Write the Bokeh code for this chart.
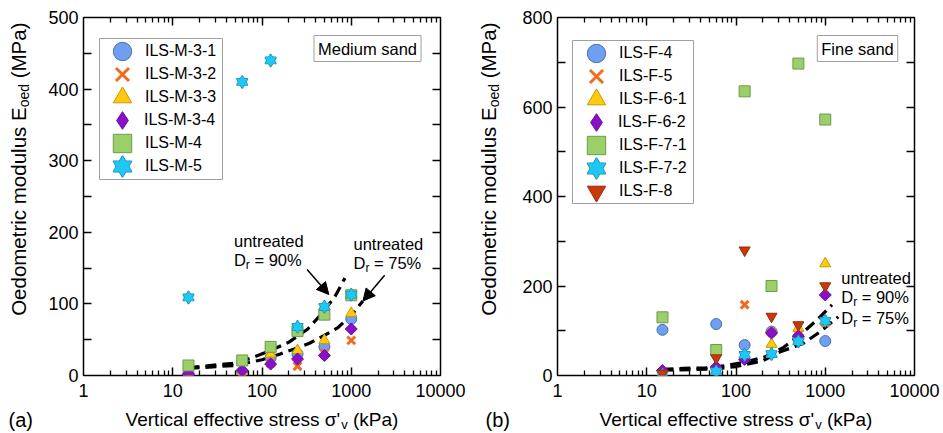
from math import pi
from bokeh.plotting import figure
from bokeh.models import (FixedTicker, Legend, LegendItem, Label, Arrow, NormalHead,
                          BoxAnnotation, Range1d, NumeralTickFormatter)
from bokeh.layouts import row, column
from bokeh.embed import file_html
from bokeh.resources import INLINE

# ---------------- data ----------------
SIGMA = [15, 60, 125, 250, 500, 1000]          # vertical effective stress (kPa)
XTICKS = [1, 10, 100, 1000, 10000]
XMINOR = [m * 10 ** d for d in range(4) for m in range(2, 10)]
YTICKS_A = [0, 100, 200, 300, 400, 500]
YMINOR_A = [50, 150, 250, 350, 450]
YTICKS_B = [0, 200, 400, 600, 800]
YMINOR_B = [100, 300, 500, 700]

# (a) medium sand, Eoed (MPa)
M_3_1 = [3, 5, 25, 30, 40, 79]
M_3_2 = [1, 3, 17, 13, 31, 49]
M_3_3 = [3, 6, 30, 35, 49, 87]
M_3_4 = [2, 7, 16, 23, 28, 65]
M_4 = [14, 21, 40, 62, 85, 112]
M_5 = [109, 410, 440, 68, 96, 113]

# untreated reference curves (a)
SIG_90M = [15, 47, 75, 120, 203, 326, 441, 649, 850]
E_90M = [11, 17, 24, 34, 47, 65, 83, 109, 136]
SIG_75M = [15, 50, 100, 160, 230, 340, 500, 710, 1000, 1350]
E_75M = [10, 14, 22, 30, 37, 45, 56, 67, 84, 104]

# (b) fine sand, Eoed (MPa)
F_4 = [102, 115, 68, 98, 85, 77]
F_5 = [2, 1, 158, 96, 92, 118]
F_6_1 = [4, 10, 40, 70, 106, 250]
F_6_2 = [11, 19, 36, 95, 88, 180]
F_7_1 = [130, 57, 635, 200, 697, 572]
F_7_2 = [2, 9, 46, 48, 76, 122]
F_8 = [5, 39, 280, 132, 113, 200]

SIG_90F = [15, 26, 46, 76, 133, 213, 342, 525, 807, 1190]
E_90F = [14, 16, 17, 22, 31, 42, 63, 91, 124, 158]
SIG_75F = [15, 30, 60, 100, 200, 314, 572, 879, 1400]
E_75F = [12, 13, 15, 20, 33, 53, 72, 98, 131]

# ---------------- style ----------------
FONT = "Liberation Sans"
STY = {
    "circle": ("#6e9ff0", "#4a70b5"),
    "x": ("#f26a1e", "#f26a1e"),
    "triangle": ("#ffc90e", "#c89b00"),
    "diamond": ("#8a0fcb", "#6a0a9c"),
    "square": ("#9bcf6a", "#6f9a4a"),
    "star": ("#1ec8f2", "#1a8ab5"),
    "inverted_triangle": ("#c7380b", "#9a2a05"),
}
AW = {'V': 667, 'e': 556, 'r': 333, 't': 278, 'i': 222, 'c': 500, 'a': 556, 'l': 222,
      ' ': 278, 'f': 278, 's': 500, 'σ': 600, "'": 191, 'v': 500, '(': 333, 'k': 500,
      'P': 667, ')': 333, 'O': 778, 'd': 556, 'o': 556, 'm': 833, 'u': 556, 'E': 667,
      'M': 833, 'D': 722, '=': 584, '%': 889}


def tw(s, px):
    return sum(AW.get(c, 556) for c in s) * px / 1000.0


FW, FH = 357, 358
PH = 405          # plot figure height
XLH = 27          # x-label strip height
YLW = 40          # y-label strip width


def make_fig(width, right, ymax, yt, ym):
    p = figure(width=width, height=PH, x_axis_type="log", x_range=Range1d(1, 10000),
               y_range=Range1d(0, ymax), output_backend="svg", toolbar_location=None,
               min_border_left=43, min_border_right=right, min_border_top=17,
               min_border_bottom=30)
    p.outline_line_color = "black"
    p.outline_line_width = 1.5
    p.background_fill_color = "white"
    p.border_fill_color = "white"
    xt = FixedTicker(ticks=XTICKS, minor_ticks=XMINOR)
    ytk = FixedTicker(ticks=yt, minor_ticks=ym)
    bottom = p.below[0]
    leftax = p.left[0]
    bottom.ticker = xt
    leftax.ticker = ytk
    for ax in [bottom, leftax]:
        ax.major_tick_in = 0
        ax.major_tick_out = 0
        ax.minor_tick_in = 0
        ax.minor_tick_out = 0
        ax.major_tick_line_color = None
        ax.minor_tick_line_color = None
        ax.axis_line_color = None
        ax.major_label_text_font = FONT
        ax.major_label_text_font_size = "18px"
        ax.major_label_text_color = "black"
    bottom.formatter = NumeralTickFormatter(format="0")
    bottom.major_label_standoff = 8
    leftax.major_label_standoff = 5
    # inward, mirrored tick marks drawn as dashed grid lines (dash at both frame edges)
    gx = p.xgrid[0]
    gx.ticker = xt
    gx.grid_line_color = "black"
    gx.grid_line_width = 1.5
    gx.grid_line_dash = "8 342"
    gx.minor_grid_line_color = "black"
    gx.minor_grid_line_width = 1.3
    gx.minor_grid_line_dash = "5 348"
    gy = p.ygrid[0]
    gy.ticker = ytk
    gy.grid_line_color = "black"
    gy.grid_line_width = 1.5
    gy.grid_line_dash = "8 341"
    gy.minor_grid_line_color = "black"
    gy.minor_grid_line_width = 1.3
    gy.minor_grid_line_dash = "8 341"
    return p


def label_fig(width, height):
    f = figure(width=width, height=height, x_range=Range1d(0, 1), y_range=Range1d(0, 1),
               x_axis_location=None, y_axis_location=None, toolbar_location=None,
               output_backend="svg", min_border=0)
    f.outline_line_color = None
    f.grid.visible = False
    f.background_fill_color = "white"
    f.border_fill_color = "white"
    return f


def slabel(p, x, y, text, size, units="screen", angle=0, align="left", **kw):
    p.add_layout(Label(x=x, y=y, x_units=units, y_units=units, text=text, angle=angle,
                       text_font=FONT, text_font_size=f"{size}px", text_color="black",
                       text_baseline="middle", text_align=align, **kw))


def x_label_strip(width, cx, tag, tagx):
    f = label_fig(width, XLH)
    s1, s2, s3 = "Vertical effective stress σ'", "v", "(kPa)"
    big, small = 19, 13
    w1, w2, w3 = tw(s1, big), tw(s2, small), tw(" " + s3, big)
    x0 = cx - (w1 + w2 + w3) / 2
    y0 = 13
    slabel(f, x0, y0, s1, big)
    slabel(f, x0 + w1, y0 - 5, s2, small)
    slabel(f, x0 + w1 + w2 + tw(" ", big), y0, s3, big)
    slabel(f, tagx, y0, tag, 20)
    return f


def y_label_strip(cx):
    f = label_fig(YLW, PH)
    t1, t2, t3 = "Oedometric modulus E", "oed", "(MPa)"
    yb, ys = 20.5, 14
    ytop = PH - 14 - 38
    y_sub_end = ytop - tw(t3, yb) - tw(" ", yb)
    y_main_end = y_sub_end - tw(t2, ys)
    slabel(f, cx, ytop, t3, yb, angle=pi / 2, align="right")
    slabel(f, cx + 5, y_sub_end, t2, ys, angle=pi / 2, align="right")
    slabel(f, cx, y_main_end, t1, yb, angle=pi / 2, align="right")
    return f


def add_series(p, name, kind, ys):
    fill, line = STY[kind]
    rs = []
    if kind == "star":
        for m in ("triangle", "inverted_triangle"):
            rs.append(p.scatter(SIGMA, ys, marker=m, size=11, fill_color=None,
                                line_color=line, line_width=1.4))
        for m in ("triangle", "inverted_triangle"):
            rs.append(p.scatter(SIGMA, ys, marker=m, size=11, fill_color=fill, line_color=None))
    elif kind == "x":
        rs.append(p.scatter(SIGMA, ys, marker="x", size=11, line_color=fill, line_width=3))
    elif kind == "diamond":
        p.scatter(SIGMA, ys, marker="square", angle=pi / 4, size=8.5,
                  fill_color=fill, line_color=line, line_width=1)
        # hidden twin used only for the legend symbol
        rs.append(p.scatter(SIGMA, ys, marker="diamond", size=13, fill_color=fill,
                            line_color=line, line_width=1, visible=False))
    else:
        rs.append(p.scatter(SIGMA, ys, marker=kind, size=11, fill_color=fill,
                            line_color=line, line_width=1))
    return LegendItem(label=name, renderers=rs)


def add_legend(p, items, kinds, box, x, c0):
    l, r, t, b = box
    p.add_layout(BoxAnnotation(left=l, right=r, top=t, bottom=b, left_units="screen",
                               right_units="screen", top_units="screen", bottom_units="screen",
                               fill_color="white", fill_alpha=1, line_color="#a0a0a0",
                               line_width=1, line_alpha=1))
    for i, (it, kind) in enumerate(zip(items, kinds)):
        g = 44 if kind == "diamond" else 46
        cx = x + 23
        cy = c0 - 23 * i
        leg = Legend(items=[it], location=(cx - g / 2, cy - g / 2), padding=0, spacing=0,
                     glyph_width=g, glyph_height=g, label_standoff=int(18 - g / 2),
                     label_height=20, label_text_font=FONT, label_text_font_size="16px",
                     label_text_color="black", border_line_color=None,
                     background_fill_alpha=0, margin=0, inactive_fill_alpha=0)
        p.add_layout(leg)


def dr_text(p, x, y, pct):
    wd = tw("D", 16.5)
    slabel(p, x, y, "D", 16.5, units="data")
    slabel(p, x, y, "r", 12, units="data", x_offset=wd, y_offset=-5)
    slabel(p, x, y, "= " + pct, 16.5, units="data", x_offset=wd + 4.0 + tw(" ", 16.5))


KINDS_A = ["circle", "x", "triangle", "diamond", "square", "star"]
KINDS_B = ["circle", "x", "triangle", "diamond", "square", "star", "inverted_triangle"]

# ---------------- panel (a) ----------------
pa = make_fig(434, 34, 500, YTICKS_A, YMINOR_A)
for xs, ys in [(SIG_90M, E_90M), (SIG_75M, E_75M)]:
    pa.line(xs, ys, line_color="black", line_width=3.2, line_dash="11 6")
names_a = ["ILS-M-3-1", "ILS-M-3-2", "ILS-M-3-3", "ILS-M-3-4", "ILS-M-4", "ILS-M-5"]
vals_a = [M_3_1, M_3_2, M_3_3, M_3_4, M_4, M_5]
items_a = [add_series(pa, n, k, v) for n, k, v in zip(names_a, KINDS_A, vals_a)]
add_legend(pa, items_a, KINDS_A, (16, 139, 337, 196), 16, 324)
slabel(pa, 284, 327, "Medium sand", 16.5, align="center", background_fill_color="white",
       border_line_color="#a0a0a0", padding=4)
slabel(pa, 48.5, 188, "untreated", 16.5, units="data")
dr_text(pa, 48.5, 162, "90%")
slabel(pa, 1060, 184, "untreated", 16.5, units="data")
dr_text(pa, 1060, 157, "75%")
pa.add_layout(Arrow(x_start=320, y_start=148, x_end=561, y_end=113, line_width=1.5,
                    end=NormalHead(size=12, fill_color="black", line_color="black")))
pa.add_layout(Arrow(x_start=2367, y_start=140, x_end=1353, y_end=104, line_width=1.5,
                    end=NormalHead(size=12, fill_color="black", line_color="black")))

# ---------------- panel (b) ----------------
pb = make_fig(427, 27, 800, YTICKS_B, YMINOR_B)
for xs, ys in [(SIG_90F, E_90F), (SIG_75F, E_75F)]:
    pb.line(xs, ys, line_color="black", line_width=3.2, line_dash="11 6")
names_b = ["ILS-F-4", "ILS-F-5", "ILS-F-6-1", "ILS-F-6-2", "ILS-F-7-1", "ILS-F-7-2", "ILS-F-8"]
vals_b = [F_4, F_5, F_6_1, F_6_2, F_7_1, F_7_2, F_8]
items_b = [add_series(pb, n, k, v) for n, k, v in zip(names_b, KINDS_B, vals_b)]
add_legend(pb, items_b, KINDS_B, (15, 136, 335, 172), 16, 322)
slabel(pb, 300, 327, "Fine sand", 16.5, align="center", background_fill_color="white",
       border_line_color="#a0a0a0", padding=4)
slabel(pb, 1510, 218, "untreated", 16.5, units="data")
dr_text(pb, 1510, 175, "90%")
dr_text(pb, 1510, 129, "75%")

group_a = column(row(y_label_strip(18), pa), x_label_strip(YLW + 434, 261.5, "(a)", 8))
group_b = column(row(y_label_strip(14), pb), x_label_strip(YLW + 427, 261.5, "(b)", 11))
layout = row(group_a, group_b)
open("out.html", "w").write(file_html(layout, INLINE))
